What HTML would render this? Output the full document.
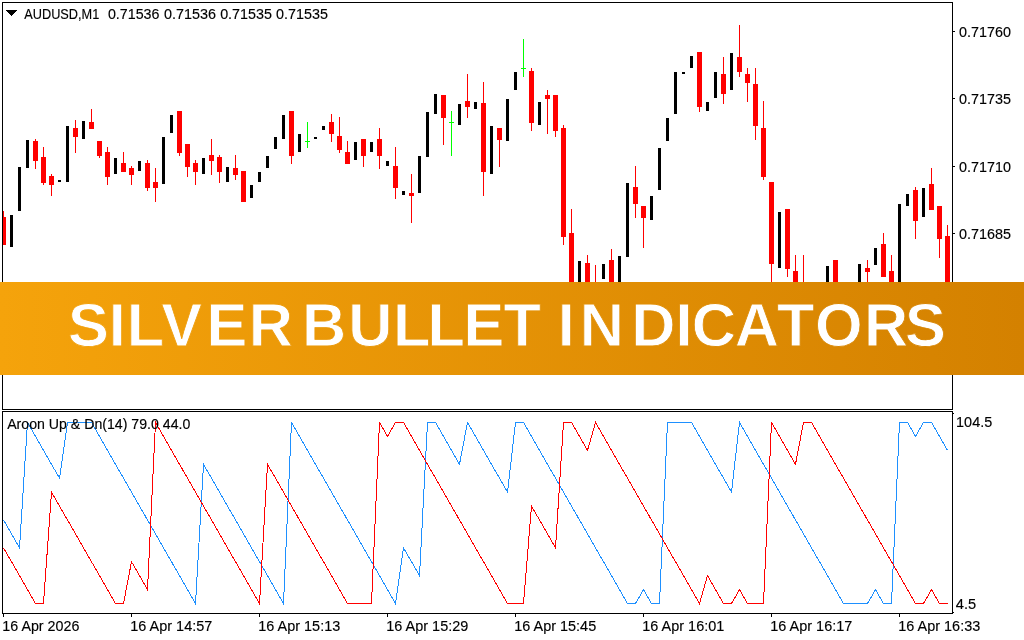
<!DOCTYPE html>
<html><head><meta charset="utf-8"><title>Silver Bullet Indicators</title>
<style>
html,body{margin:0;padding:0;background:#fff;}
body{width:1024px;height:640px;overflow:hidden;position:relative;font-family:"Liberation Sans",sans-serif;}
svg{position:absolute;left:0;top:0;display:block;}
.ui text{font-family:"Liberation Sans",sans-serif;font-size:14.5px;fill:#000;stroke:#000;stroke-width:0.15px;}
.bn text{font-family:"Liberation Sans",sans-serif;font-weight:bold;font-size:61.2px;fill:#fff;}
</style></head><body>
<svg width="1024" height="640" viewBox="0 0 1024 640">
<defs><linearGradient id="bg" x1="0" y1="0" x2="1" y2="0">
<stop offset="0" stop-color="#f5a30b"/><stop offset="1" stop-color="#d48100"/></linearGradient>
<linearGradient id="bgu" gradientUnits="userSpaceOnUse" x1="0" y1="0" x2="1024" y2="0"><stop offset="0" stop-color="#f5a30b"/><stop offset="1" stop-color="#d48100"/></linearGradient></defs>
<rect width="1024" height="640" fill="#fff"/>
<g shape-rendering="crispEdges">
<path fill="#000" d="M2 2h951v1h-951zM2 2h1v408h-1zM2 409h951v1h-951zM952 2h1v408h-1zM952 411h1v203h-1zM2 411h951v1h-951zM2 411h1v203h-1zM2 613h951v1h-951z"/>
<path fill="#000" d="M953 31h2v1h-2zM953 98h2v1h-2zM953 166h2v1h-2zM953 233h2v1h-2zM3 614h1v3h-1zM131 614h1v3h-1zM259 614h1v3h-1zM387 614h1v3h-1zM515 614h1v3h-1zM643 614h1v3h-1zM771 614h1v3h-1zM899 614h1v3h-1zM953 413h1v1h-1zM953 612h1v1h-1z"/>
<path fill="#000" d="M6 10h11v1h-11zM7 11h9v1h-9zM8 12h7v1h-7zM9 13h5v1h-5zM10 14h3v1h-3zM11 15h1v1h-1z"/>
<path fill="#000" d="M10 215h3v32h-3zM18 167h3v44h-3zM26 140h3v28h-3zM58 180h3v2h-3zM66 126h3v56h-3zM82 121h3v18h-3zM114 158h3v16h-3zM138 161h3v10h-3zM162 137h3v47h-3zM170 115h3v18h-3zM202 158h3v16h-3zM226 167h3v15h-3zM250 185h3v13h-3zM258 172h3v10h-3zM266 156h3v12h-3zM274 137h3v12h-3zM282 115h3v24h-3zM298 134h3v18h-3zM314 137h3v2h-3zM322 126h3v4h-3zM354 142h3v18h-3zM370 142h3v10h-3zM386 161h3v5h-3zM402 191h3v4h-3zM418 156h3v37h-3zM426 112h3v45h-3zM434 94h3v20h-3zM458 104h3v21h-3zM474 102h3v7h-3zM490 126h3v48h-3zM506 99h3v42h-3zM514 72h3v18h-3zM538 102h3v23h-3zM578 261h3v29h-3zM602 264h3v15h-3zM618 256h3v34h-3zM626 183h3v74h-3zM650 196h3v24h-3zM658 148h3v42h-3zM666 118h3v23h-3zM674 72h3v42h-3zM682 72h3v2h-3zM690 56h3v12h-3zM706 102h3v9h-3zM714 72h3v26h-3zM730 53h3v37h-3zM778 212h3v56h-3zM826 266h3v24h-3zM858 264h3v26h-3zM874 248h3v17h-3zM898 204h3v86h-3zM906 194h3v12h-3zM922 188h3v29h-3z"/>
<path fill="#f00" d="M3 211h1v34h-1zM3 217h3v28h-3zM35 139h1v30h-1zM33 141h5v20h-5zM43 147h1v38h-1zM41 157h5v26h-5zM51 174h1v22h-1zM49 176h5v9h-5zM75 120h1v33h-1zM73 128h5v9h-5zM91 109h1v20h-1zM89 122h5v7h-5zM99 141h1v17h-1zM97 141h5v15h-5zM107 147h1v38h-1zM105 152h5v25h-5zM123 152h1v20h-1zM121 163h5v9h-5zM131 166h1v19h-1zM129 168h5v7h-5zM147 160h1v31h-1zM145 163h5v25h-5zM155 168h1v34h-1zM153 182h5v6h-5zM179 111h1v45h-1zM177 111h5v42h-5zM187 144h1v33h-1zM185 144h5v23h-5zM195 160h1v25h-1zM193 163h5v9h-5zM211 139h1v36h-1zM209 155h5v6h-5zM219 155h1v28h-1zM217 157h5v15h-5zM235 155h1v25h-1zM233 168h5v7h-5zM241 171h5v31h-5zM291 111h1v53h-1zM289 111h5v45h-5zM331 114h1v28h-1zM329 122h5v12h-5zM339 117h1v36h-1zM337 136h5v14h-5zM347 141h1v23h-1zM345 152h5v12h-5zM363 139h1v28h-1zM361 139h5v17h-5zM379 128h1v41h-1zM377 139h5v17h-5zM395 147h1v52h-1zM393 166h5v22h-5zM411 174h1v49h-1zM409 193h5v3h-5zM443 95h1v50h-1zM441 95h5v23h-5zM467 74h1v44h-1zM465 101h5v6h-5zM483 82h1v114h-1zM481 103h5v69h-5zM499 128h1v39h-1zM497 128h5v12h-5zM531 68h1v63h-1zM529 71h5v52h-5zM547 90h1v44h-1zM545 95h5v4h-5zM555 95h1v42h-1zM553 95h5v36h-5zM563 125h1v120h-1zM561 128h5v109h-5zM571 209h1v81h-1zM569 233h5v57h-5zM587 255h1v35h-1zM585 263h5v27h-5zM595 265h1v25h-1zM611 249h1v41h-1zM609 260h5v30h-5zM635 166h1v52h-1zM633 187h5v17h-5zM643 206h1v42h-1zM641 206h5v12h-5zM699 52h1v60h-1zM697 52h5v55h-5zM723 57h1v47h-1zM721 74h5v20h-5zM739 25h1v52h-1zM737 57h5v15h-5zM747 68h1v34h-1zM745 74h5v9h-5zM755 68h1v72h-1zM753 84h5v42h-5zM763 101h1v79h-1zM761 128h5v49h-5zM771 182h1v108h-1zM769 182h5v82h-5zM787 209h1v68h-1zM785 209h5v60h-5zM795 255h1v35h-1zM793 271h5v19h-5zM803 255h1v35h-1zM833 260h5v30h-5zM867 260h1v30h-1zM865 268h5v4h-5zM883 233h1v44h-1zM881 244h5v33h-5zM891 255h1v35h-1zM889 271h5v19h-5zM915 187h1v52h-1zM913 190h5v31h-5zM931 168h1v42h-1zM929 184h5v26h-5zM939 206h1v52h-1zM937 206h5v33h-5zM947 225h1v65h-1zM945 236h5v54h-5z"/>
<path fill="#0f0" d="M307 122h1v26h-1zM305 141h5v1h-5zM451 111h1v45h-1zM449 122h5v1h-5zM523 39h1v38h-1zM521 68h5v1h-5z"/>
</g>
<g shape-rendering="crispEdges" fill="none" stroke-width="1">
<polyline stroke="#1e90ff" points="3.5,519.96 19.5,547.81 27.5,422.50 59.5,478.19 67.5,422.50 91.5,422.50 195.5,603.50 203.5,464.27 283.5,603.50 291.5,422.50 395.5,603.50 403.5,547.81 419.5,575.65 427.5,422.50 435.5,422.50 459.5,464.27 467.5,422.50 507.5,492.12 515.5,422.50 523.5,422.50 627.5,603.50 635.5,603.50 643.5,589.58 651.5,603.50 659.5,603.50 667.5,422.50 691.5,422.50 731.5,492.12 739.5,422.50 843.5,603.50 867.5,603.50 875.5,589.58 883.5,603.50 891.5,603.50 899.5,422.50 907.5,422.50 915.5,436.42 923.5,422.50 931.5,422.50 947.5,450.35"/>
<polyline stroke="#f00" points="3.5,547.81 35.5,603.50 43.5,603.50 51.5,492.12 115.5,603.50 123.5,603.50 131.5,561.73 147.5,589.58 155.5,422.50 259.5,603.50 267.5,464.27 347.5,603.50 371.5,603.50 379.5,422.50 387.5,436.42 395.5,422.50 403.5,422.50 507.5,603.50 523.5,603.50 531.5,506.04 555.5,547.81 563.5,422.50 571.5,422.50 587.5,450.35 595.5,422.50 699.5,603.50 707.5,575.65 723.5,603.50 731.5,603.50 739.5,589.58 747.5,603.50 763.5,603.50 771.5,422.50 795.5,464.27 803.5,422.50 811.5,422.50 915.5,603.50 923.5,603.50 931.5,589.58 939.5,603.50 947.5,603.50"/>
</g>
<g class="ui">
<text x="24.28" y="19" textLength="74.95" lengthAdjust="spacingAndGlyphs">AUDUSD,M1</text>
<text x="107.94" y="19" textLength="51.48" lengthAdjust="spacingAndGlyphs">0.71536</text>
<text x="164.04" y="19" textLength="51.99" lengthAdjust="spacingAndGlyphs">0.71536</text>
<text x="220.14" y="19" textLength="51.76" lengthAdjust="spacingAndGlyphs">0.71535</text>
<text x="276.04" y="19" textLength="51.86" lengthAdjust="spacingAndGlyphs">0.71535</text>
<text x="959.04" y="37" textLength="51.92" lengthAdjust="spacingAndGlyphs">0.71760</text>
<text x="959.04" y="104" textLength="51.97" lengthAdjust="spacingAndGlyphs">0.71735</text>
<text x="959.04" y="172" textLength="51.92" lengthAdjust="spacingAndGlyphs">0.71710</text>
<text x="959.04" y="239" textLength="51.97" lengthAdjust="spacingAndGlyphs">0.71685</text>
<text x="956.10" y="427" textLength="36.10" lengthAdjust="spacingAndGlyphs">104.5</text>
<text x="955.86" y="609" textLength="20.35" lengthAdjust="spacingAndGlyphs">4.5</text>
<text x="7.17" y="429" textLength="183.18" lengthAdjust="spacingAndGlyphs">Aroon Up &amp; Dn(14) 79.0 44.0</text>
<text x="2.32" y="631" textLength="77.10" lengthAdjust="spacingAndGlyphs">16 Apr 2026</text>
<text x="130.31" y="631" textLength="82.01" lengthAdjust="spacingAndGlyphs">16 Apr 14:57</text>
<text x="258.31" y="631" textLength="81.92" lengthAdjust="spacingAndGlyphs">16 Apr 15:13</text>
<text x="386.31" y="631" textLength="81.97" lengthAdjust="spacingAndGlyphs">16 Apr 15:29</text>
<text x="514.31" y="631" textLength="81.89" lengthAdjust="spacingAndGlyphs">16 Apr 15:45</text>
<text x="642.31" y="631" textLength="81.99" lengthAdjust="spacingAndGlyphs">16 Apr 16:01</text>
<text x="770.31" y="631" textLength="82.01" lengthAdjust="spacingAndGlyphs">16 Apr 16:17</text>
<text x="898.31" y="631" textLength="81.92" lengthAdjust="spacingAndGlyphs">16 Apr 16:33</text>
</g>
<rect x="0" y="282" width="1024" height="93" fill="url(#bg)"/>
<g class="bn">
<text x="68.03 108.75 126.83 161.22 206.49 248.73 291.75 301.99 348.31 393.08 427.45 463.49 503.54 541.75 557.75 579.79 631.26 675.50 691.86 734.82 776.92 814.98 863.98 904.90" y="346.15" stroke="url(#bgu)" stroke-width="0.8">SILVER BULLET INDICATORS</text>
</g>
</svg>
</body></html>
